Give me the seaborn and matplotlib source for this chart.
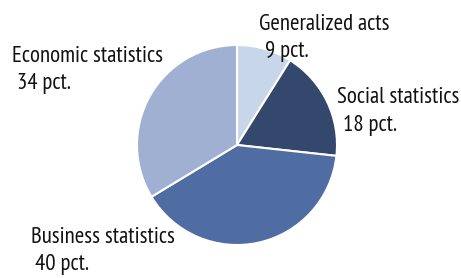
import matplotlib

matplotlib.use("Agg")

import matplotlib.pyplot as plt
import seaborn as sns
from matplotlib import font_manager

# data
categories = ["Generalized acts", "Social statistics", "Business statistics", "Economic statistics"]
shares = [9, 18, 40, 34]
pct_labels = ["9 pct.", "18 pct.", "40 pct.", "34 pct."]
colors = ["#c8d6ea", "#34486e", "#4f6ca3", "#9fb0d3"]

sns.set_theme(style="white")
names = {f.name for f in font_manager.fontManager.ttflist}
preferred = ["PT Sans Narrow", "Open Sans Condensed", "Fira Sans Condensed", "Roboto Condensed",
             "Encode Sans Condensed", "Asap Condensed", "Archivo Narrow", "Liberation Sans Narrow"]
family = next((f for f in preferred if f in names), "DejaVu Sans")
plt.rcParams["font.family"] = [family, "DejaVu Sans"]

H = 278
fig = plt.figure(figsize=(4.61, 2.78), dpi=100)
ax = fig.add_axes([0, 0, 1, 1])

ax.pie(shares, colors=colors, startangle=90, counterclock=False,
       center=(237, H - 145), radius=100,
       wedgeprops=dict(edgecolor="white", linewidth=1.5))

# pie() resets the limits, so set them afterwards
ax.set_xlim(0, 461)
ax.set_ylim(0, H)
ax.set_aspect("equal")
ax.axis("off")

# label baselines, pixels from the top: (name x, name y, pct x, pct y)
label_pos = [(259, 30, 265, 57), (337, 103, 343, 131), (31, 243, 35, 270), (12, 62, 17, 89)]
for name, pct, (x1, y1, x2, y2) in zip(categories, pct_labels, label_pos):
    ax.text(x1, H - y1, name, ha="left", va="baseline", fontsize=16.5, color="#111111")
    ax.text(x2, H - y2, pct, ha="left", va="baseline", fontsize=16.5, color="#111111")

fig.savefig("out.png", dpi=100)
